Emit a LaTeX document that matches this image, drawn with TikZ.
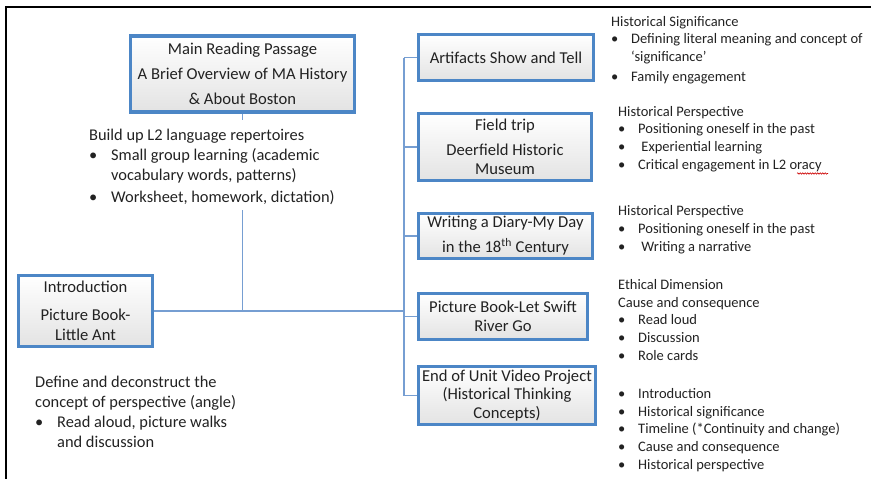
\documentclass[tikz,border=0pt]{standalone}
\usepackage{fontspec}
\setmainfont{Carlito}
\usetikzlibrary{decorations.pathmorphing}

\definecolor{boxblue}{RGB}{76,134,198}
\definecolor{linkblue}{RGB}{118,158,210}
\definecolor{inkgray}{RGB}{34,34,34}

% bullet with hanging indent for the small and large note texts
\newcommand\bul{\makebox[20pt][l]{•}}
\newcommand\bulL{\makebox[22pt][l]{•}}

\begin{document}
\begin{tikzpicture}[x=1pt,y=-1pt,
  stagebox/.style={draw=boxblue, line width=3.4pt, top color=white,
    bottom color=black!11, align=center, inner sep=2pt,
    font=\fontsize{16.6}{18.5}\selectfont, text=inkgray},
  link/.style={draw=linkblue, line width=1.4pt},
  % note blocks are placed by the baseline of their last line
  notes/.style={anchor=base west, align=left, inner sep=0pt,
    font=\fontsize{14.5}{17.8}\selectfont, text=inkgray},
  notesL/.style={anchor=base west, align=left, inner sep=0pt,
    font=\fontsize{16.4}{20}\selectfont, text=inkgray},
]
\useasboundingbox (0,0) rectangle (871,479);

% outer frame (top and left edges)
\draw[black, line width=1.8pt] (5.8,479) -- (5.8,7.3) -- (871,7.3);

% stage boxes
\node[stagebox, minimum width=223.8pt, minimum height=75.8pt] (main) at (242.5,74)
  {Main Reading Passage\\[6.5pt]A Brief Overview of MA History\\[6.5pt]\& About Boston};
\node[stagebox, minimum width=133.8pt, minimum height=70.8pt] (intro) at (85.5,311)
  {Introduction\\[9pt]Picture Book-\\[1.5pt]Little Ant};
\node[stagebox, minimum width=174.8pt, minimum height=45.8pt] (art) at (506,57.5)
  {Artifacts Show and Tell};
\node[stagebox, minimum width=172.8pt, minimum height=66.8pt] (field) at (505,147)
  {Field trip\\[6.5pt]Deerfield Historic\\Museum};
\node[stagebox, minimum width=173.8pt, minimum height=44.8pt] (diary) at (505.5,236)
  {Writing a Diary-My Day\\[6.5pt]in the 18\textsuperscript{th} Century};
\node[stagebox, minimum width=168.8pt, minimum height=45.8pt] (swift) at (503,316.5)
  {Picture Book-Let Swift\\River Go};
\node[stagebox, minimum width=176.8pt, minimum height=57.8pt] (final) at (507,395.5)
  {End of Unit Video Project\\(Historical Thinking\\Concepts)};

% connectors
\coordinate (stubEnd) at (242.5,120);
\coordinate (stubResume) at (242.5,210);
\coordinate (trunkX) at (404,0);
\draw[link] (main.south) -- (stubEnd);
\draw[link] (stubResume) -- (stubResume |- intro.east);
\draw[link] (intro.east) -- (intro.east -| trunkX);
\draw[link] (art.west -| trunkX) -- (final.west -| trunkX);
\foreach \b in {art,field,diary,swift,final}
  \draw[link] (\b.west -| trunkX) -- (\b.west);

% notes beside the boxes
\node[notesL] (repert) at (89,202)
  {Build up L2 language repertoires\\\bulL Small group learning (academic\\\hspace*{22pt}vocabulary words, patterns)\\[2pt]\bulL Worksheet, homework, dictation)};
\node[notesL] (angle) at (35,447)
  {Define and deconstruct the\\concept of perspective (angle)\\\bulL Read aloud, picture walks\\\hspace*{22pt}and discussion};

\node[notes] (sig) at (611,81)
  {Historical Significance\\\bul Defining literal meaning and concept of\\\hspace*{20pt}‘significance’\\[1.5pt]\bul Family engagement};
\node[notes] (persA) at (618,169.5)
  {Historical Perspective\\\bul Positioning oneself in the past\\\bul\ Experiential learning\\\bul Critical engagement in L2 oracy};
\node[notes] (persB) at (618,251.5)
  {Historical Perspective\\\bul Positioning oneself in the past\\\bul\ Writing a narrative};
\node[notes] (ethic) at (618,360.5)
  {Ethical Dimension\\Cause and consequence\\\bul Read loud\\\bul Discussion\\\bul Role cards};
\node[notes] (concepts) at (618,469.5)
  {\bul Introduction\\\bul Historical significance\\\bul Timeline (*Continuity and change)\\\bul Cause and consequence\\\bul Historical perspective};

% spelling mark under "oracy"
\draw[red!80!black, line width=0.6pt, decorate,
  decoration={snake, amplitude=0.7pt, segment length=2.5pt}] (797,173.5) -- (828,173.5);
\end{tikzpicture}
\end{document}
